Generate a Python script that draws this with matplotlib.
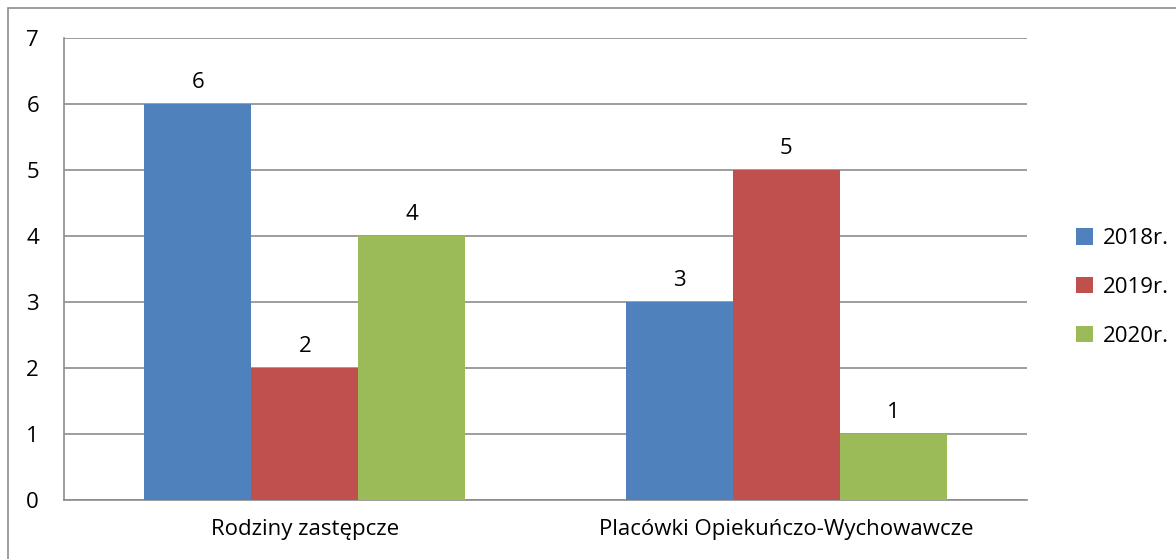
import numpy as np
from matplotlib import pyplot as plt
from matplotlib.patches import Rectangle

categories = ["Rodziny zastępcze", "Placówki Opiekuńczo-Wychowawcze"]
years = ["2018r.", "2019r.", "2020r."]
values_2018 = [6, 3]
values_2019 = [2, 5]
values_2020 = [4, 1]
colors = ["#4f81bd", "#c0504d", "#9bbb59"]

plt.rcParams["font.family"] = ["Open Sans", "DejaVu Sans"]
fs = 16

fig = plt.figure(figsize=(11.76, 5.59), dpi=100)
ax = fig.add_axes([64 / 1176, 1 - 500 / 559, 963 / 1176, 462 / 559])

# outer chart frame, cut off at right and bottom like the source
fig.patches.append(Rectangle((8 / 1176, -0.1), 1.2, 1.1 - 8 / 559,
                             transform=fig.transFigure, fill=False,
                             edgecolor="#8c8c8c", linewidth=1.2))

x = np.arange(len(categories))
w = 0.222
series = [values_2018, values_2019, values_2020]
for i, (vals, lab, c) in enumerate(zip(series, years, colors)):
    bars = ax.bar(x + (i - 1) * w, vals, w, color=c, label=lab, zorder=3)
    ax.bar_label(bars, padding=8, fontsize=fs)

ax.set_xlim(-0.5, 1.5)
ax.set_ylim(0, 7)
ax.set_yticks(range(8))
ax.yaxis.grid(True, color="#8c8c8c", linewidth=1.2, zorder=0)
ax.set_xticks(x)
ax.set_xticklabels(categories)
ax.tick_params(axis="x", length=0, pad=14, labelsize=fs)
ax.tick_params(axis="y", length=0, pad=18, labelsize=fs)
for side in ["top", "right"]:
    ax.spines[side].set_visible(False)
for side in ["left", "bottom"]:
    ax.spines[side].set_color("#8c8c8c")
    ax.spines[side].set_linewidth(1.2)

ax.legend(loc="center left", bbox_to_anchor=(1.03, 0.46), frameon=False,
          fontsize=fs, handlelength=0.75, handleheight=0.75,
          handletextpad=0.45, labelspacing=1.25)

fig.savefig("out.png", dpi=100)
